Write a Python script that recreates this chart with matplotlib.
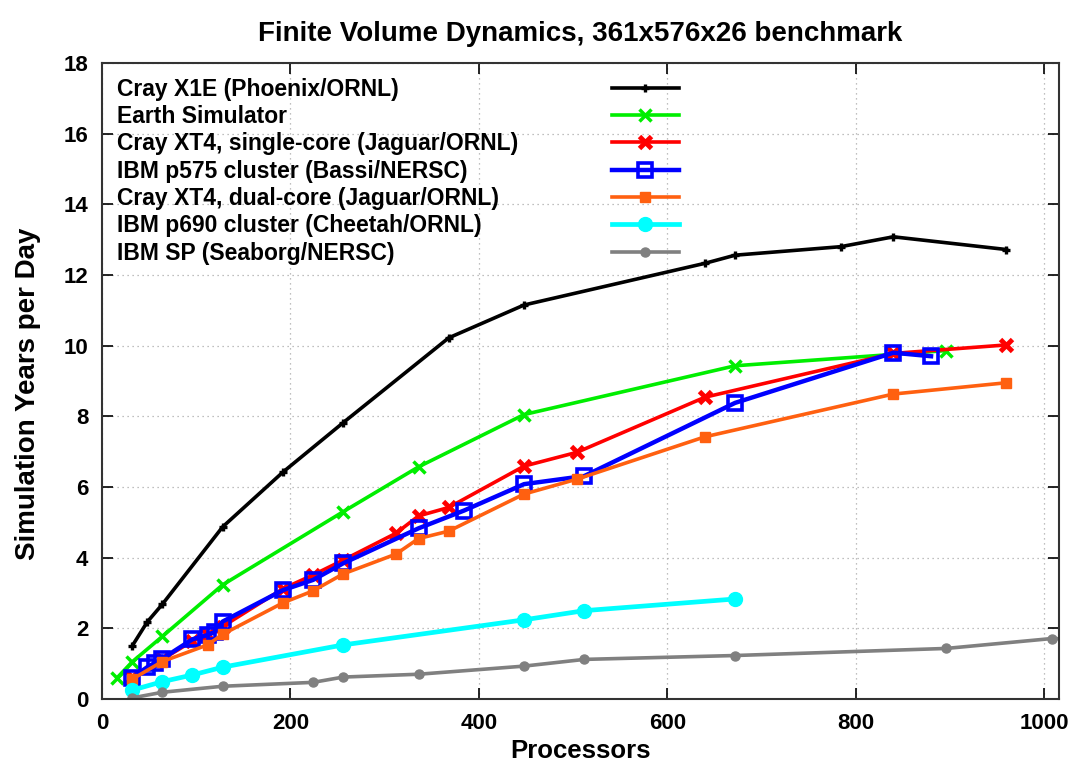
import matplotlib
matplotlib.use('Agg')
import matplotlib.pyplot as plt
from matplotlib.lines import Line2D

plt.rcParams['font.family'] = ['Liberation Sans', 'DejaVu Sans']
plt.rcParams['font.weight'] = 'bold'

# Cray X1E (Phoenix/ORNL)
x1e_p = [32, 48, 64, 128, 192, 256, 368, 448, 640, 672, 784, 840, 960]
x1e_y = [1.50, 2.18, 2.68, 4.87, 6.42, 7.82, 10.22, 11.15, 12.33, 12.56, 12.80, 13.08, 12.72]

# Earth Simulator
es_p = [16, 32, 64, 128, 256, 336, 448, 672, 896]
es_y = [0.60, 1.05, 1.77, 3.23, 5.30, 6.57, 8.05, 9.43, 9.86]

# Cray XT4, single-core
xt4s_p = [32, 64, 96, 112, 128, 192, 224, 256, 312, 336, 368, 448, 504, 640, 840, 960]
xt4s_y = [0.62, 1.12, 1.64, 1.80, 2.05, 3.12, 3.51, 3.93, 4.69, 5.18, 5.42, 6.59, 6.98, 8.54, 9.78, 10.02]

# IBM p575 cluster (Bassi/NERSC)
p575_p = [32, 48, 56, 64, 96, 112, 120, 128, 192, 224, 256, 336, 384, 448, 512, 672, 840, 880]
p575_y = [0.60, 0.90, 1.02, 1.14, 1.69, 1.81, 1.90, 2.19, 3.08, 3.37, 3.84, 4.83, 5.33, 6.08, 6.31, 8.38, 9.80, 9.70]

# Cray XT4, dual-core
xt4d_p = [32, 64, 112, 128, 192, 224, 256, 312, 336, 368, 448, 504, 640, 840, 960]
xt4d_y = [0.56, 1.06, 1.53, 1.83, 2.72, 3.06, 3.54, 4.10, 4.54, 4.75, 5.80, 6.22, 7.42, 8.63, 8.95]

# IBM p690 cluster (Cheetah/ORNL)
p690_p = [32, 64, 96, 128, 256, 448, 512, 672]
p690_y = [0.25, 0.49, 0.68, 0.90, 1.53, 2.24, 2.50, 2.83]

# IBM SP (Seaborg/NERSC)
sp_p = [32, 64, 128, 224, 256, 336, 448, 512, 672, 896, 1008, 1024]
sp_y = [0.03, 0.19, 0.36, 0.47, 0.62, 0.70, 0.93, 1.12, 1.23, 1.43, 1.71, 1.70]

fig = plt.figure(figsize=(10.73, 7.66), dpi=100)
ax = fig.add_axes([0.0951, 0.0875, 0.892, 0.8303])

lw = 2.6
lines = []
lines += ax.plot(x1e_p, x1e_y, color='black', lw=lw, marker='+', ms=6, mew=2.4,
                 label='Cray X1E (Phoenix/ORNL)')
lines += ax.plot(es_p, es_y, color='#00ee00', lw=lw, marker='x', ms=8, mew=2.5,
                 label='Earth Simulator')
lines += ax.plot(xt4s_p, xt4s_y, color='#ff0000', lw=lw, marker='x', ms=8, mew=3.5,
                 label='Cray XT4, single-core (Jaguar/ORNL)')
lines += ax.plot(p575_p, p575_y, color='#0000ff', lw=lw + 0.6, marker='s', ms=10.5,
                 mew=2.6, mfc='none', label='IBM p575 cluster (Bassi/NERSC)')
lines += ax.plot(xt4d_p, xt4d_y, color='#ff6010', lw=lw, marker='s', ms=6.5,
                 label='Cray XT4, dual-core (Jaguar/ORNL)')
lines += ax.plot(p690_p, p690_y, color='#00ffff', lw=lw + 0.8, marker='o', ms=10,
                 label='IBM p690 cluster (Cheetah/ORNL)')
lines += ax.plot(sp_p, sp_y, color='#808080', lw=lw, marker='o', ms=6.5,
                 label='IBM SP (Seaborg/NERSC)')

ax.set_xlim(0, 1016)
ax.set_ylim(0, 18)
ax.set_xticks(range(0, 1001, 200))
ax.set_yticks(range(0, 19, 2))
ax.grid(True, linestyle=(0, (1, 3)), color='#aaaaaa', lw=0.9)
ax.tick_params(direction='in', top=True, right=True, length=8, width=1.2,
               labelsize=16, pad=10)
for lab in ax.get_xticklabels() + ax.get_yticklabels():
    lab.set_fontweight('bold')
for s in ax.spines.values():
    s.set_linewidth(1.5)
    s.set_color('#333333')

ax.set_xlabel('Processors', fontsize=18.5, fontweight='bold', labelpad=4)
ax.set_ylabel('Simulation Years per Day', fontsize=20, fontweight='bold')
ax.yaxis.set_label_coords(-0.064, 0.48)
ax.set_title('Finite Volume Dynamics, 361x576x26 benchmark', fontsize=20,
             fontweight='bold', pad=16)

# gnuplot-style key: left-aligned labels, samples in a column on the right
labels = [l.get_label() for l in lines]
blank = [Line2D([], [], linestyle='none', marker='none') for _ in lines]
key_font = {'weight': 'bold', 'size': 16.5}
leg_txt = ax.legend(blank, labels, loc='upper left', bbox_to_anchor=(0.0155, 0.977),
                    frameon=False, handlelength=0, handletextpad=0,
                    labelspacing=0.19, borderpad=0, borderaxespad=0, prop=key_font)
ax.add_artist(leg_txt)
ax.legend(lines, [' '] * len(lines), loc='upper left', bbox_to_anchor=(0.533, 0.977),
          frameon=False, handlelength=2.9, handletextpad=0,
          labelspacing=0.19, borderpad=0, borderaxespad=0, prop=key_font)

fig.savefig('out.png', dpi=100)
